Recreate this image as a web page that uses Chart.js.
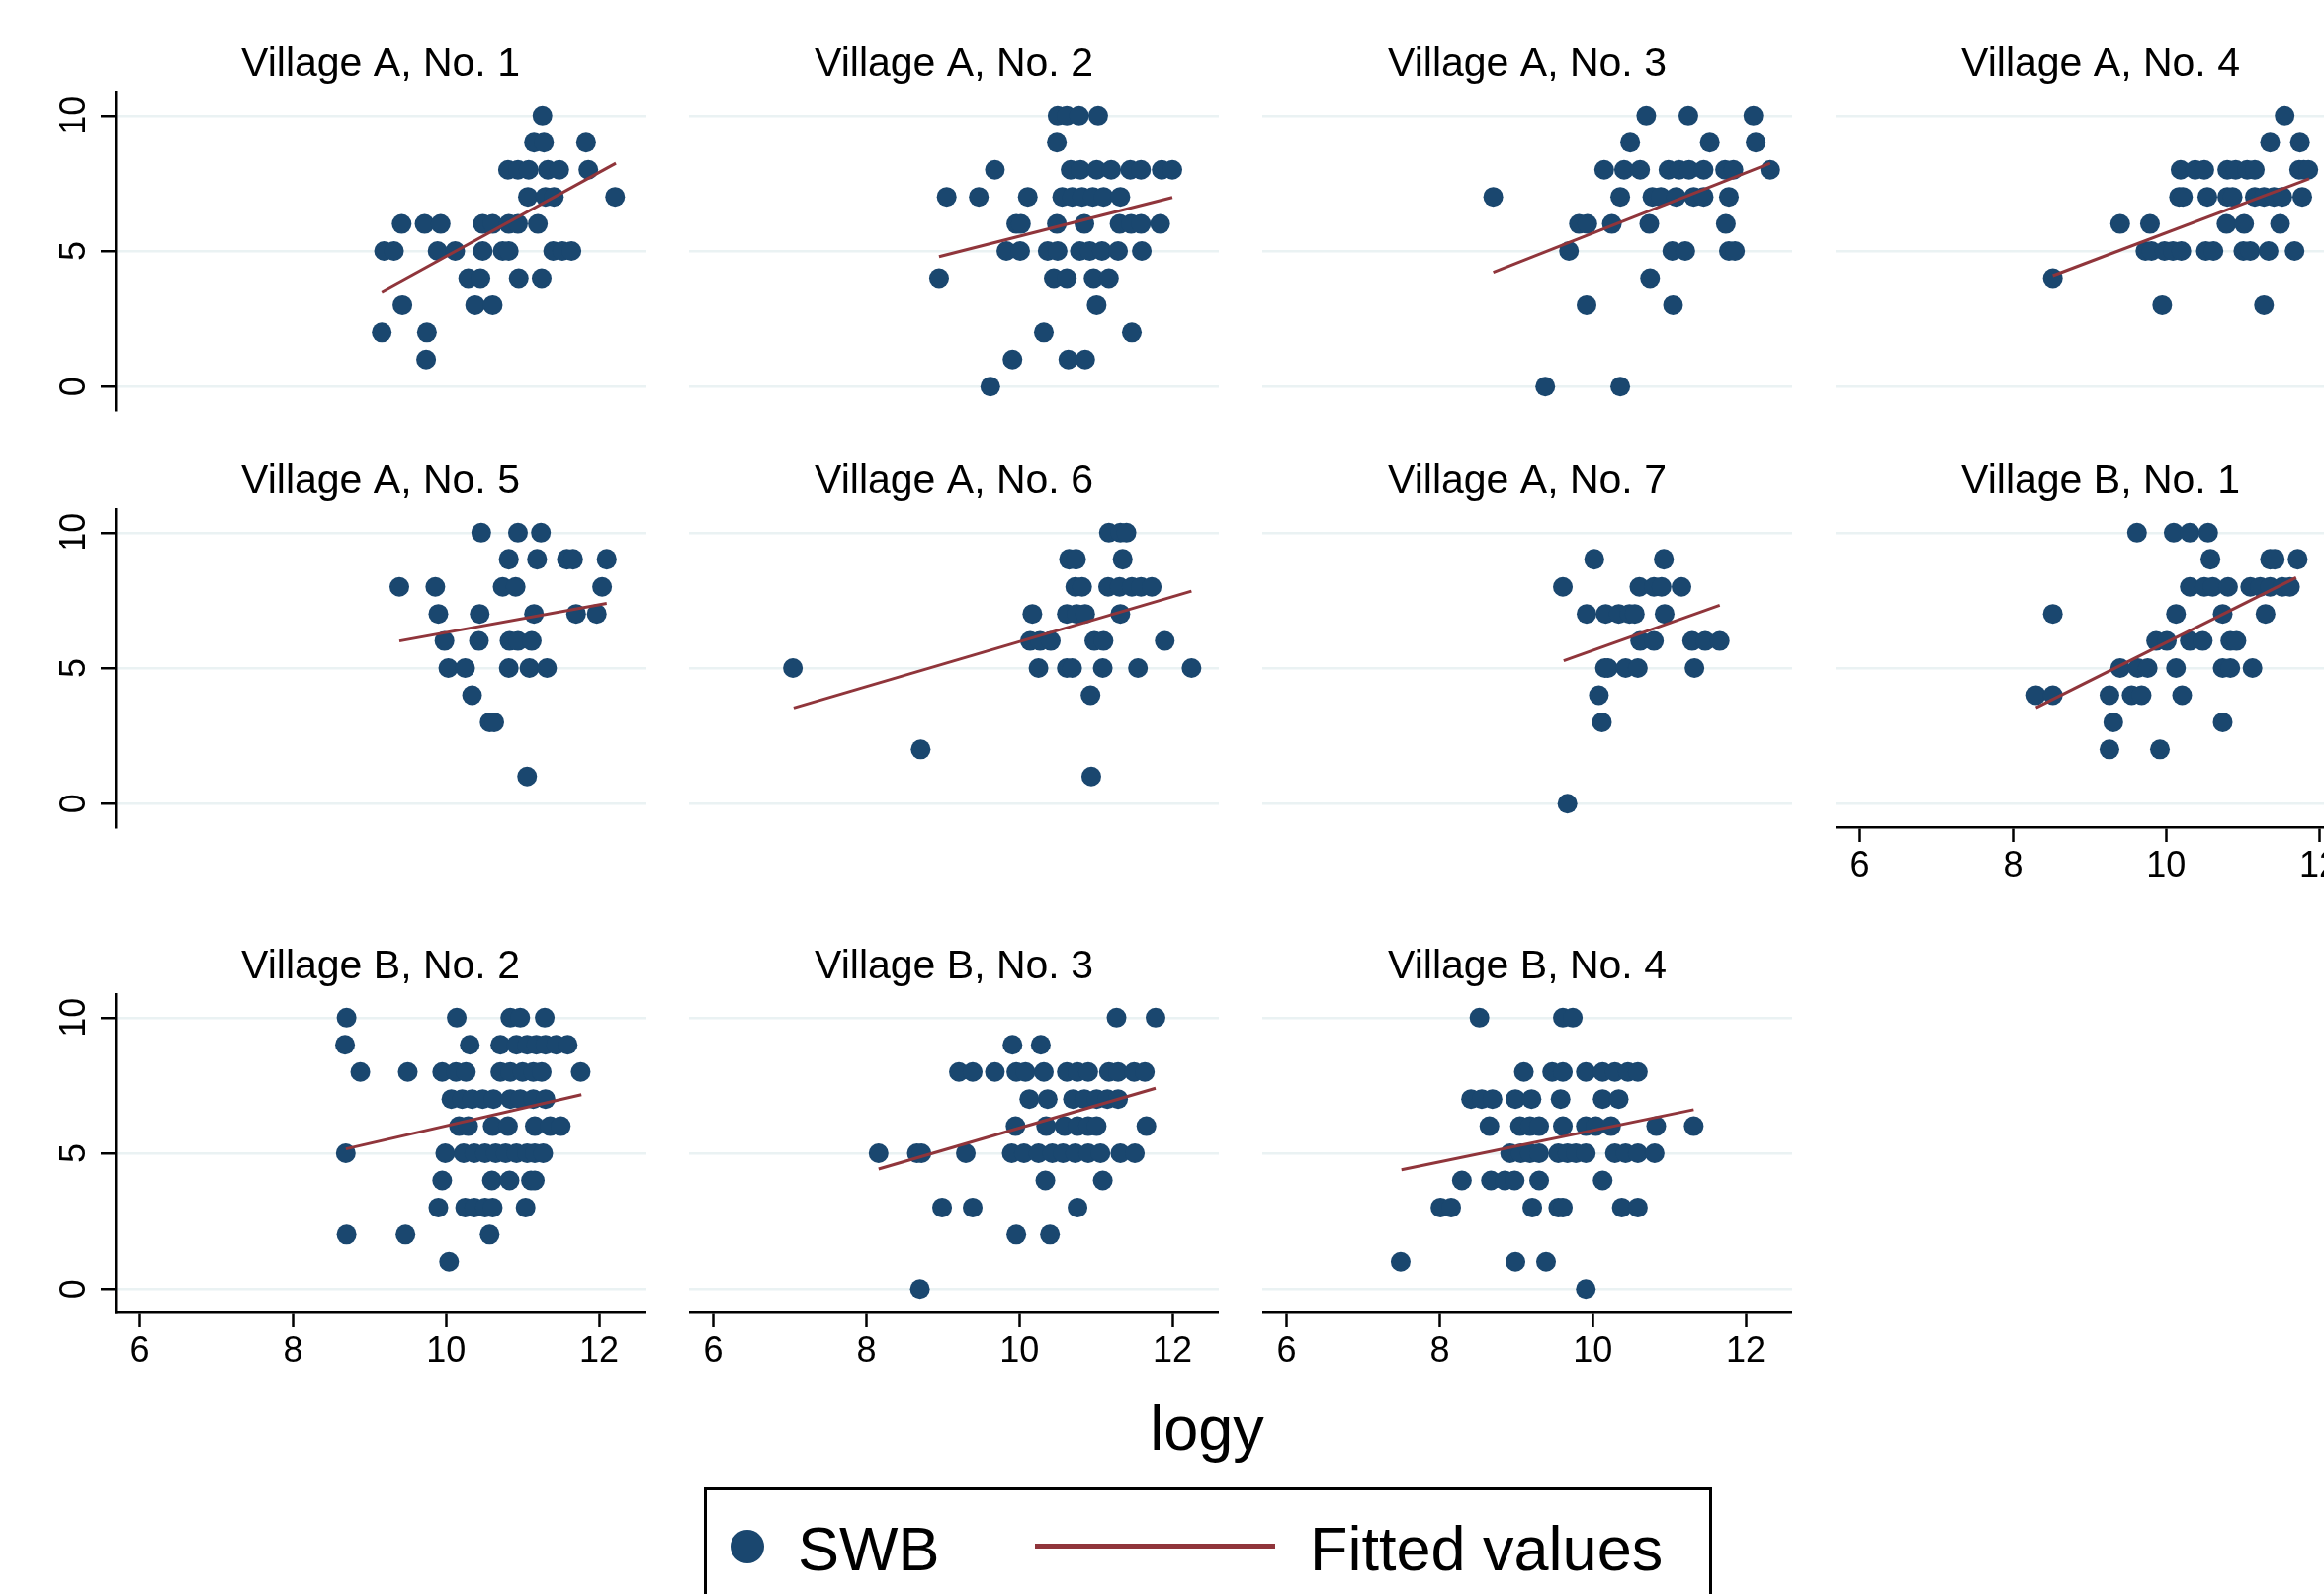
<!DOCTYPE html>
<html>
<head>
<meta charset="utf-8">
<script src="https://cdn.jsdelivr.net/npm/chart.js@4.4.1/dist/chart.umd.min.js"></script>
<style>
  html, body { margin: 0; padding: 0; background: #fff; overflow: hidden; }
  body { width: 2351px; height: 1613px; position: relative; font-family: 'Liberation Sans', Arial, Helvetica, sans-serif; }
  canvas { position: absolute; }
  .txt { position: absolute; font-size: 63px; line-height: 63px; white-space: nowrap; color: #000; }
  #legendBox { position: absolute; left: 712px; top: 1505px; width: 1020px; height: 150px; border: 3px solid #000; box-sizing: border-box; background: #fff; }
  #legendDot { position: absolute; left: 739px; top: 1548px; width: 34px; height: 34px; border-radius: 50%; background: #1a476f; }
  #legendLine { position: absolute; left: 1047px; top: 1562px; width: 243px; height: 5px; background: #90353b; }
</style>
</head>
<body>
<div class="txt" style="left:0; width:2442px; text-align:center; top:1414px;">logy</div>
<div id="legendBox"></div>
<div id="legendDot"></div>
<div class="txt" style="left:807px; top:1536px;">SWB</div>
<div id="legendLine"></div>
<div class="txt" style="left:1325px; top:1536px;">Fitted values</div>

<script>
const panelTitles = [
  'Village A, No. 1', 'Village A, No. 2', 'Village A, No. 3', 'Village A, No. 4',
  'Village A, No. 5', 'Village A, No. 6', 'Village A, No. 7', 'Village B, No. 1',
  'Village B, No. 2', 'Village B, No. 3', 'Village B, No. 4'
];
const xTicks = [6, 8, 10, 12];
const yTicks = [0, 5, 10];

// logy of each respondent, listed by SWB score 0..10
const swbA1 = [
  [],
  [9.74],
  [9.16, 9.75],
  [9.43, 10.38, 10.61],
  [10.29, 10.45, 10.95, 11.25],
  [9.19, 9.32, 9.89, 10.12, 10.48, 10.74, 10.82, 11.40, 11.52, 11.64],
  [9.42, 9.72, 9.93, 10.48, 10.61, 10.82, 10.94, 11.20],
  [11.07, 11.30, 11.41, 12.21],
  [10.81, 10.94, 11.08, 11.33, 11.48, 11.86],
  [11.15, 11.28, 11.83],
  [11.26]
];
const swbA2 = [
  [9.62],
  [9.91, 10.64, 10.86],
  [10.32, 11.47],
  [11.01],
  [8.95, 10.45, 10.62, 10.97, 11.17],
  [9.83, 10.01, 10.37, 10.50, 10.79, 10.92, 11.08, 11.29, 11.60],
  [9.96, 10.02, 10.49, 10.85, 11.31, 11.46, 11.59, 11.84],
  [9.05, 9.47, 10.11, 10.56, 10.69, 10.82, 10.96, 11.10, 11.32],
  [9.68, 10.67, 10.80, 11.01, 11.20, 11.45, 11.59, 11.86, 12.00],
  [10.49],
  [10.50, 10.62, 10.78, 11.03]
];
const swbA3 = [
  [9.38, 10.36],
  [],
  [],
  [9.92, 11.05],
  [10.75],
  [9.69, 11.04, 11.21, 11.78, 11.86],
  [9.82, 9.93, 10.25, 10.74, 11.74],
  [8.70, 10.36, 10.78, 10.89, 11.09, 11.32, 11.45, 11.78],
  [10.15, 10.41, 10.62, 10.99, 11.13, 11.26, 11.45, 11.73, 11.84, 12.32],
  [10.49, 11.53, 12.13],
  [10.70, 11.25, 12.10]
];
const swbA4 = [
  [],
  [],
  [],
  [9.95, 11.28],
  [8.52],
  [9.73, 9.81, 9.98, 10.09, 10.20, 10.52, 10.62, 11.01, 11.10, 11.34, 11.68],
  [9.40, 9.79, 10.79, 11.02, 11.49],
  [10.17, 10.22, 10.54, 10.80, 10.87, 11.16, 11.28, 11.41, 11.52, 11.78],
  [10.19, 10.38, 10.50, 10.80, 10.91, 11.06, 11.16, 11.74, 11.80, 11.86],
  [11.36, 11.75],
  [11.55]
];
const swbA5 = [
  [],
  [11.06],
  [],
  [10.57, 10.63],
  [10.34],
  [10.03, 10.25, 10.82, 11.09, 11.32],
  [9.98, 10.43, 10.83, 10.94, 11.12],
  [9.90, 10.44, 11.15, 11.70, 11.97],
  [9.39, 9.86, 10.74, 10.91, 12.04],
  [10.82, 11.19, 11.58, 11.66, 12.10],
  [10.46, 10.94, 11.24]
];
const swbA6 = [
  [],
  [10.94],
  [8.71],
  [],
  [10.93],
  [7.04, 10.25, 10.62, 10.69, 11.09, 11.55, 12.25],
  [10.14, 10.27, 10.41, 10.98, 11.10, 11.90],
  [10.17, 10.62, 10.75, 10.86, 11.32],
  [10.73, 10.82, 11.16, 11.31, 11.47, 11.59, 11.73],
  [10.65, 10.74, 11.35],
  [11.17, 11.32, 11.40]
];
const swbA7 = [
  [9.67],
  [],
  [],
  [10.12],
  [10.08],
  [10.16, 10.20, 10.43, 10.59, 11.33],
  [10.62, 10.80, 11.30, 11.47, 11.66],
  [9.92, 10.17, 10.34, 10.48, 10.55, 10.94],
  [9.61, 10.61, 10.80, 10.90, 11.16],
  [10.02, 10.93],
  []
];
const swbB1 = [
  [],
  [],
  [9.26, 9.92],
  [9.31, 10.74],
  [8.30, 8.52, 9.26, 9.55, 9.68, 10.21],
  [9.40, 9.63, 9.76, 10.13, 10.74, 10.84, 11.13],
  [9.87, 10.01, 10.31, 10.48, 10.84, 10.92],
  [8.52, 10.13, 10.74, 11.30],
  [10.31, 10.50, 10.61, 10.81, 11.10, 11.23, 11.36, 11.52, 11.62],
  [10.58, 11.36, 11.42, 11.72],
  [9.62, 10.10, 10.31, 10.55]
];
const swbB2 = [
  [],
  [10.04],
  [8.70, 9.47, 10.57],
  [9.90, 10.25, 10.37, 10.51, 10.61, 11.04],
  [9.95, 10.60, 10.83, 11.11, 11.16],
  [8.69, 9.99, 10.23, 10.37, 10.51, 10.65, 10.78, 10.92, 11.06, 11.16, 11.27],
  [10.17, 10.29, 10.61, 10.81, 11.16, 11.36, 11.50],
  [10.07, 10.21, 10.34, 10.48, 10.62, 10.84, 10.97, 11.14, 11.30],
  [8.88, 9.50, 9.95, 10.13, 10.26, 10.71, 10.84, 11.00, 11.14, 11.25, 11.76],
  [8.68, 10.31, 10.71, 10.92, 11.06, 11.18, 11.30, 11.44, 11.59],
  [8.70, 10.14, 10.84, 10.97, 11.29]
];
const swbB3 = [
  [8.70],
  [],
  [9.96, 10.40],
  [8.99, 9.39, 10.76],
  [10.34, 11.09],
  [8.16, 8.66, 8.72, 9.30, 9.90, 10.06, 10.25, 10.43, 10.57, 10.73, 10.90, 11.06, 11.32, 11.51],
  [9.95, 10.35, 10.59, 10.76, 10.90, 11.01, 11.66],
  [10.13, 10.37, 10.70, 10.85, 11.01, 11.15, 11.29],
  [9.21, 9.39, 9.68, 9.96, 10.08, 10.32, 10.62, 10.76, 10.90, 11.17, 11.29, 11.50, 11.64],
  [9.91, 10.28],
  [11.27, 11.78]
];
const swbB4 = [
  [9.91],
  [7.49, 8.99, 9.39],
  [],
  [8.01, 8.15, 9.21, 9.55, 9.61, 10.38, 10.59],
  [8.29, 8.67, 8.85, 8.98, 9.30, 10.13],
  [8.92, 9.06, 9.18, 9.30, 9.55, 9.67, 9.78, 9.91, 10.29, 10.43, 10.59, 10.81],
  [8.65, 9.05, 9.18, 9.30, 9.61, 9.91, 10.04, 10.24, 10.83, 11.32],
  [8.41, 8.55, 8.69, 8.99, 9.20, 9.58, 10.13, 10.34],
  [9.10, 9.47, 9.61, 9.91, 10.13, 10.29, 10.46, 10.59],
  [],
  [8.52, 9.61, 9.74]
];

// fitted line end points, one per panel
const fitX0 = [9.16, 8.95, 8.70, 8.52, 9.39, 7.05, 9.62, 8.30, 8.69, 8.16, 7.50];
const fitY0 = [3.50, 4.79, 4.21, 4.09, 6.00, 3.53, 5.27, 3.54, 5.16, 4.42, 4.39];
const fitX1 = [12.22, 12.00, 12.32, 11.87, 12.10, 12.25, 11.66, 11.70, 11.77, 11.78, 11.32];
const fitY1 = [8.24, 6.98, 8.24, 7.67, 7.39, 7.84, 7.32, 8.34, 7.16, 7.40, 6.61];

const panels = [swbA1, swbA2, swbA3, swbA4, swbA5, swbA6, swbA7, swbB1, swbB2, swbB3, swbB4];

const navy = '#1a476f';
const maroon = '#90353b';
const gridColor = '#eaf2f3';
const fontFamily = "'Liberation Sans', Arial, Helvetica, sans-serif";

const colLeft = [117, 697, 1277, 1857];
const rowTop = [93, 515, 1006];
const plotW = 536, plotH = 322, titleH = 55, xAxisH = 70;

panels.forEach((levels, i) => {
  const row = Math.floor(i / 4), col = i % 4;
  const hasX = row === 2 || (row === 1 && col === 3);
  const hasY = col === 0;
  const yAxisW = hasY ? colLeft[0] : 0;

  const canvas = document.createElement('canvas');
  const w = yAxisW + plotW, h = titleH + plotH + xAxisH;
  canvas.width = w;
  canvas.height = h;
  canvas.style.width = w + 'px';
  canvas.style.height = h + 'px';
  canvas.style.left = (colLeft[col] - yAxisW) + 'px';
  canvas.style.top = (rowTop[row] - titleH) + 'px';
  document.body.appendChild(canvas);

  const points = [];
  levels.forEach((xs, swb) => xs.forEach(x => points.push({x: x, y: swb})));

  new Chart(canvas, {
    type: 'scatter',
    data: {
      datasets: [{
        label: 'Fitted values',
        data: [{x: fitX0[i], y: fitY0[i]}, {x: fitX1[i], y: fitY1[i]}],
        showLine: true,
        borderColor: maroon,
        borderWidth: 3,
        pointRadius: 0,
        order: 0
      }, {
        label: 'SWB',
        data: points,
        backgroundColor: navy,
        borderColor: navy,
        borderWidth: 0,
        pointRadius: 10,
        order: 1
      }]
    },
    options: {
      responsive: false,
      animation: false,
      devicePixelRatio: 1,
      events: [],
      layout: { padding: 0, autoPadding: false },
      plugins: {
        legend: { display: false },
        tooltip: { enabled: false },
        title: {
          display: true,
          text: panelTitles[i],
          fullSize: false,
          color: '#000',
          font: { family: fontFamily, size: 41, weight: 'normal', lineHeight: 1.2 },
          padding: { top: 3, bottom: 3 }
        }
      },
      scales: {
        x: {
          type: 'linear',
          min: 5.682,
          max: 12.607,
          afterBuildTicks: s => { s.ticks = xTicks.map(v => ({value: v})); },
          afterFit: s => { s.height = xAxisH; },
          ticks: { display: hasX, color: '#000', font: { family: fontFamily, size: 36 }, padding: 3, maxRotation: 0, autoSkip: false },
          grid: { display: hasX, drawOnChartArea: false, drawTicks: true, tickLength: 15, tickColor: '#000', tickWidth: 2.5 },
          border: { display: hasX, color: '#000', width: 2.5 }
        },
        y: {
          type: 'linear',
          min: -0.866,
          max: 10.862,
          afterBuildTicks: s => { s.ticks = yTicks.map(v => ({value: v})); },
          afterFit: s => { s.width = yAxisW; },
          ticks: { display: hasY, color: '#000', font: { family: fontFamily, size: 36 }, minRotation: 90, maxRotation: 90, crossAlign: 'center', padding: 6 },
          grid: { color: gridColor, lineWidth: 2.5, drawTicks: hasY, tickLength: 15, tickColor: '#000', tickWidth: 2.5 },
          border: { display: hasY, color: '#000', width: 2.5 }
        }
      }
    }
  });
});
</script>
</body>
</html>
